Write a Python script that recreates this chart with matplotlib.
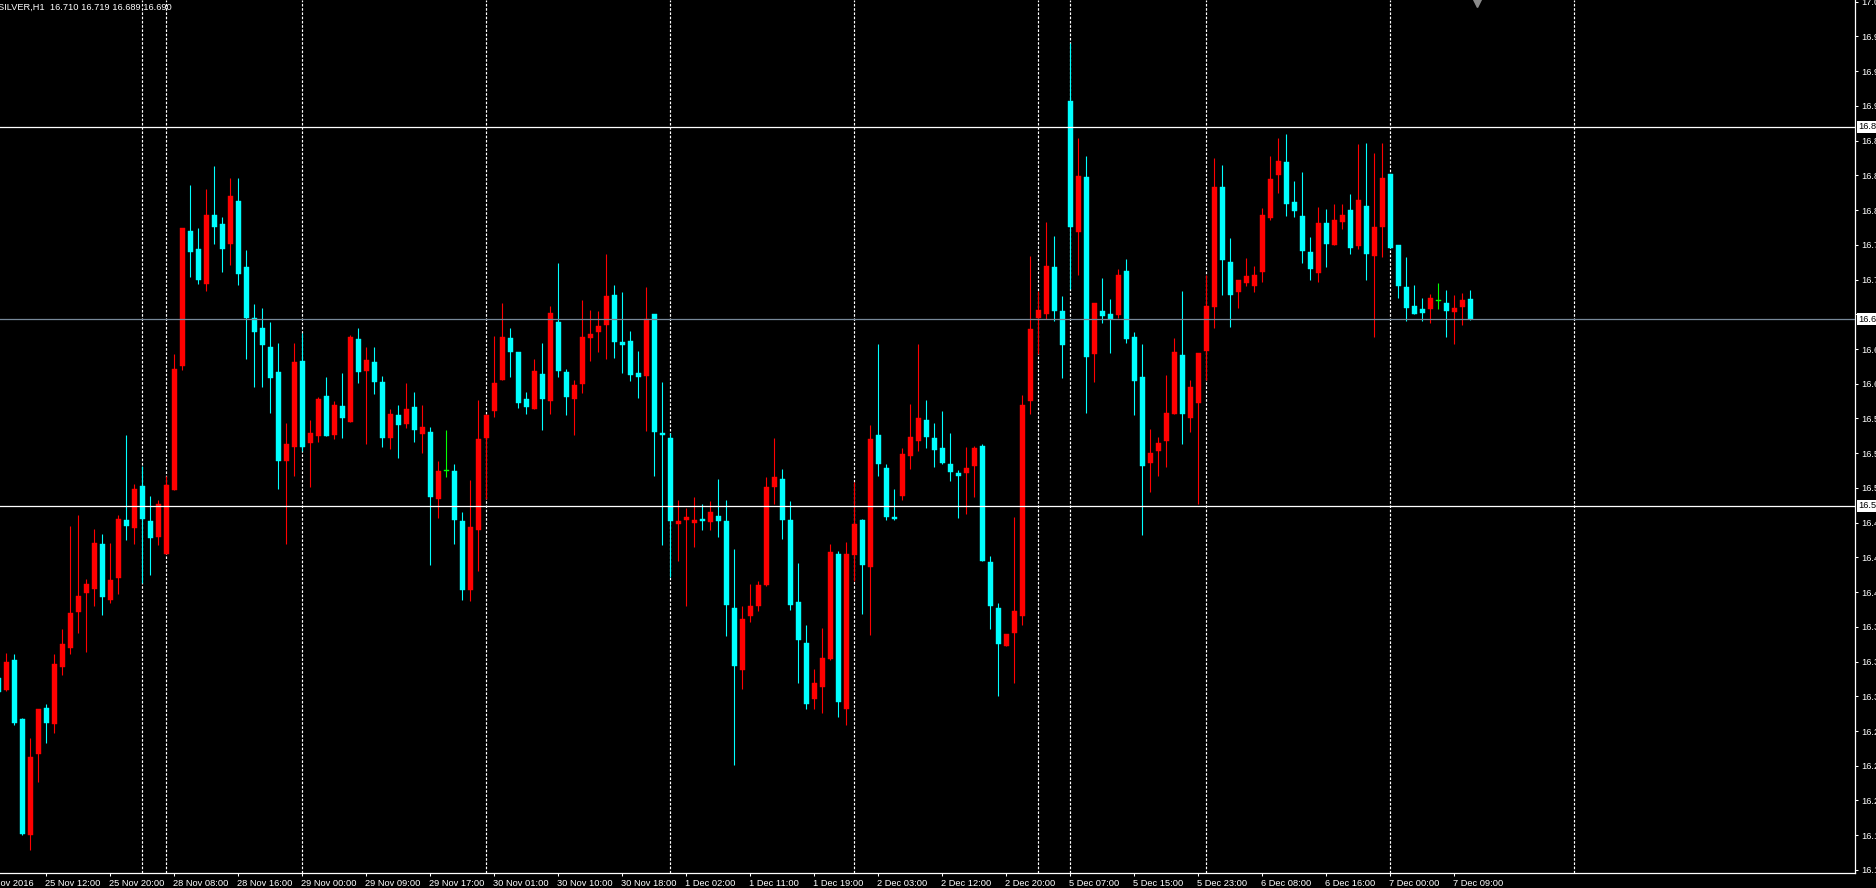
import matplotlib
matplotlib.use("Agg")
import matplotlib.pyplot as plt
import numpy as np
import pandas as pd

plt.rcParams['font.family'] = ['Liberation Sans', 'DejaVu Sans']

# ---------------- data (SILVER, H1) ----------------
symbol = "SILVER,H1"

opens = [
    16.328, 16.316, 16.347, 16.287, 16.170, 16.252, 16.298, 16.282, 16.340, 16.359,
    16.395, 16.414, 16.418, 16.463, 16.407, 16.429, 16.488, 16.480, 16.522, 16.487,
    16.471, 16.453, 16.518, 16.643, 16.779, 16.761, 16.726, 16.795, 16.786, 16.766,
    16.809, 16.743, 16.691, 16.681, 16.662, 16.637, 16.547, 16.561, 16.648, 16.565,
    16.572, 16.613, 16.573, 16.603, 16.586, 16.670, 16.638, 16.647, 16.627, 16.570,
    16.593, 16.584, 16.602, 16.574, 16.576, 16.509, 16.537, 16.537, 16.487, 16.417,
    16.478, 16.570, 16.598, 16.629, 16.671, 16.657, 16.610, 16.600, 16.635, 16.608,
    16.687, 16.637, 16.610, 16.625, 16.671, 16.677, 16.684, 16.714, 16.667, 16.668,
    16.636, 16.633, 16.695, 16.575, 16.570, 16.484, 16.488, 16.485, 16.489, 16.486,
    16.492, 16.487, 16.399, 16.337, 16.391, 16.401, 16.422, 16.521, 16.529, 16.488,
    16.405, 16.364, 16.307, 16.319, 16.348, 16.453, 16.297, 16.452, 16.488, 16.440,
    16.573, 16.540, 16.491, 16.512, 16.552, 16.567, 16.588, 16.570, 16.560, 16.544,
    16.535, 16.535, 16.542, 16.562, 16.445, 16.399, 16.361, 16.374, 16.391, 16.608,
    16.691, 16.695, 16.743, 16.698, 16.910, 16.778, 16.833, 16.655, 16.698, 16.695,
    16.694, 16.739, 16.672, 16.632, 16.545, 16.557, 16.567, 16.594, 16.654, 16.590,
    16.606, 16.658, 16.702, 16.823, 16.748, 16.717, 16.727, 16.723, 16.738, 16.792,
    16.835, 16.848, 16.808, 16.794, 16.758, 16.737, 16.787, 16.765, 16.788, 16.800,
    16.764, 16.804, 16.754, 16.783, 16.836, 16.765, 16.722, 16.703, 16.700, 16.700,
    16.708, 16.706, 16.697, 16.702, 16.710,
]
highs = [
    16.330, 16.354, 16.353, 16.288, 16.268, 16.297, 16.302, 16.353, 16.378, 16.482,
    16.493, 16.428, 16.479, 16.474, 16.464, 16.493, 16.573, 16.524, 16.542, 16.512,
    16.508, 16.532, 16.655, 16.782, 16.825, 16.782, 16.821, 16.844, 16.793, 16.832,
    16.832, 16.760, 16.705, 16.701, 16.687, 16.666, 16.585, 16.666, 16.676, 16.588,
    16.612, 16.632, 16.608, 16.636, 16.674, 16.681, 16.662, 16.662, 16.633, 16.600,
    16.604, 16.626, 16.617, 16.604, 16.581, 16.547, 16.578, 16.544, 16.496, 16.528,
    16.609, 16.593, 16.673, 16.706, 16.681, 16.657, 16.617, 16.650, 16.666, 16.703,
    16.747, 16.640, 16.629, 16.709, 16.699, 16.698, 16.756, 16.725, 16.717, 16.678,
    16.658, 16.722, 16.695, 16.627, 16.575, 16.508, 16.500, 16.511, 16.504, 16.507,
    16.529, 16.508, 16.458, 16.401, 16.423, 16.426, 16.531, 16.570, 16.539, 16.507,
    16.444, 16.382, 16.338, 16.379, 16.463, 16.456, 16.466, 16.526, 16.489, 16.583,
    16.665, 16.544, 16.519, 16.560, 16.605, 16.665, 16.609, 16.585, 16.598, 16.575,
    16.538, 16.561, 16.562, 16.564, 16.451, 16.404, 16.373, 16.491, 16.614, 16.754,
    16.718, 16.788, 16.774, 16.713, 16.968, 16.873, 16.854, 16.706, 16.732, 16.710,
    16.741, 16.751, 16.677, 16.665, 16.579, 16.571, 16.634, 16.671, 16.718, 16.629,
    16.656, 16.735, 16.852, 16.845, 16.772, 16.730, 16.752, 16.744, 16.802, 16.855,
    16.873, 16.877, 16.829, 16.838, 16.773, 16.803, 16.801, 16.806, 16.806, 16.816,
    16.867, 16.868, 16.858, 16.868, 16.836, 16.765, 16.753, 16.725, 16.711, 16.715,
    16.727, 16.719, 16.714, 16.716, 16.719,
]
lows = [
    16.311, 16.315, 16.281, 16.170, 16.155, 16.224, 16.263, 16.273, 16.331, 16.353,
    16.374, 16.355, 16.401, 16.392, 16.404, 16.413, 16.468, 16.463, 16.424, 16.432,
    16.462, 16.453, 16.518, 16.639, 16.733, 16.726, 16.718, 16.766, 16.738, 16.745,
    16.725, 16.650, 16.622, 16.622, 16.595, 16.519, 16.463, 16.532, 16.557, 16.521,
    16.566, 16.572, 16.569, 16.570, 16.586, 16.626, 16.564, 16.615, 16.561, 16.559,
    16.550, 16.580, 16.566, 16.555, 16.442, 16.490, 16.531, 16.463, 16.407, 16.406,
    16.436, 16.509, 16.591, 16.629, 16.632, 16.601, 16.594, 16.600, 16.578, 16.594,
    16.632, 16.593, 16.573, 16.616, 16.648, 16.657, 16.650, 16.651, 16.636, 16.628,
    16.611, 16.577, 16.532, 16.462, 16.430, 16.446, 16.401, 16.460, 16.478, 16.478,
    16.471, 16.371, 16.241, 16.317, 16.385, 16.396, 16.421, 16.504, 16.469, 16.397,
    16.323, 16.297, 16.297, 16.293, 16.347, 16.289, 16.281, 16.426, 16.393, 16.372,
    16.532, 16.488, 16.488, 16.508, 16.539, 16.557, 16.560, 16.541, 16.544, 16.527,
    16.490, 16.494, 16.511, 16.446, 16.378, 16.310, 16.361, 16.323, 16.382, 16.594,
    16.655, 16.690, 16.688, 16.631, 16.720, 16.735, 16.595, 16.627, 16.686, 16.656,
    16.691, 16.666, 16.593, 16.473, 16.516, 16.532, 16.541, 16.594, 16.564, 16.576,
    16.504, 16.629, 16.681, 16.714, 16.682, 16.701, 16.723, 16.717, 16.728, 16.790,
    16.817, 16.794, 16.793, 16.747, 16.730, 16.728, 16.743, 16.765, 16.781, 16.756,
    16.761, 16.730, 16.672, 16.753, 16.762, 16.711, 16.688, 16.695, 16.688, 16.686,
    16.700, 16.672, 16.665, 16.684, 16.689,
]
closes = [
    16.314, 16.345, 16.283, 16.171, 16.249, 16.297, 16.283, 16.343, 16.363, 16.394,
    16.411, 16.423, 16.464, 16.410, 16.427, 16.489, 16.482, 16.519, 16.489, 16.470,
    16.504, 16.523, 16.640, 16.782, 16.758, 16.730, 16.795, 16.783, 16.761, 16.814,
    16.736, 16.691, 16.677, 16.664, 16.631, 16.547, 16.564, 16.647, 16.561, 16.575,
    16.610, 16.572, 16.604, 16.590, 16.672, 16.637, 16.649, 16.627, 16.570, 16.594,
    16.583, 16.600, 16.578, 16.581, 16.511, 16.537, 16.537, 16.488, 16.417, 16.481,
    16.569, 16.593, 16.626, 16.672, 16.657, 16.606, 16.602, 16.638, 16.610, 16.696,
    16.638, 16.612, 16.624, 16.672, 16.675, 16.683, 16.713, 16.667, 16.664, 16.634,
    16.632, 16.690, 16.576, 16.573, 16.487, 16.487, 16.491, 16.488, 16.487, 16.496,
    16.487, 16.402, 16.341, 16.388, 16.401, 16.422, 16.521, 16.531, 16.488, 16.402,
    16.367, 16.302, 16.323, 16.349, 16.455, 16.304, 16.453, 16.484, 16.442, 16.569,
    16.544, 16.491, 16.489, 16.554, 16.571, 16.590, 16.571, 16.558, 16.545, 16.536,
    16.532, 16.540, 16.560, 16.446, 16.401, 16.363, 16.373, 16.396, 16.604, 16.680,
    16.699, 16.744, 16.698, 16.664, 16.783, 16.834, 16.652, 16.706, 16.693, 16.690,
    16.735, 16.670, 16.628, 16.542, 16.555, 16.565, 16.595, 16.657, 16.594, 16.622,
    16.656, 16.703, 16.823, 16.750, 16.714, 16.730, 16.734, 16.735, 16.795, 16.831,
    16.849, 16.806, 16.799, 16.759, 16.741, 16.787, 16.766, 16.790, 16.795, 16.762,
    16.810, 16.756, 16.783, 16.832, 16.762, 16.723, 16.701, 16.695, 16.696, 16.711,
    16.708, 16.698, 16.701, 16.709, 16.690,
]

# user-drawn horizontal levels
levels = [16.884, 16.502]

# price-scale ticks
tick_top = 17.010
tick_step = 0.035
n_ticks = 26

# broker session hours (daily break at 04:00, weekend gap)
regular = [h for h in range(24) if h != 4]
sessions = [
    ("2016-11-25", [3] + list(range(5, 24))),
    ("2016-11-26", [0, 1, 2]),
    ("2016-11-28", list(range(7, 24))),
    ("2016-11-29", regular),
    ("2016-11-30", regular),
    ("2016-12-01", regular),
    ("2016-12-02", regular),
    ("2016-12-03", [0, 1, 2, 3]),
    ("2016-12-05", list(range(7, 24))),
    ("2016-12-06", regular),
    ("2016-12-07", regular),
    ("2016-12-08", regular),
]
first_data_slot = 2     # data begins at 25 Nov 06:00
label_every = 8

# ---------------- build ----------------
times = [pd.Timestamp(f"{d} {h:02d}:00") for d, hrs in sessions for h in hrs]
o = np.array(opens); h = np.array(highs); l = np.array(lows); c = np.array(closes)
n = len(c)
x = np.arange(n) + first_data_slot

UP, DOWN, DOJI = '#ff0000', '#00ffff', '#00ff00'
cols = np.where(c > o, UP, np.where(c < o, DOWN, DOJI))

W, H, DPI = 1876, 888, 100
fig = plt.figure(figsize=(W / DPI, H / DPI), dpi=DPI, facecolor='black')
ax = fig.add_axes([0, 15 / H, 1855 / W, 873 / H])
ax.set_facecolor('black')

px_per_step = 34.73
y_top = tick_top + 1.7 / px_per_step * tick_step
y_bot = tick_top - (873 - 1.7) / px_per_step * tick_step
ax.set_ylim(y_bot, y_top)
ax.set_xlim(first_data_slot + 0.21, first_data_slot + 232.08)

# period separators (start of each day)
for i in range(1, len(times)):
    if times[i].date() != times[i - 1].date():
        ax.axvline(i, color='white', lw=0.85, dashes=(2.2, 1.4), zorder=1)

# candles
ax.vlines(x, l, h, colors=cols, lw=0.8, zorder=2)
body = np.maximum(np.abs(c - o), 0.0009)
ax.bar(x, body, bottom=np.minimum(o, c), width=0.62, color=cols,
       edgecolor=cols, linewidth=0.3, zorder=3)

# horizontal lines
for lv in levels:
    ax.axhline(lv, color='white', lw=0.9, zorder=4)
ax.axhline(c[-1], color='#778899', lw=0.9, zorder=4)

# axes styling
for s in ['left', 'top']:
    ax.spines[s].set_visible(False)
for s in ['right', 'bottom']:
    ax.spines[s].set_color('white')
    ax.spines[s].set_linewidth(0.9)

FS = 6.7
boxed = levels + [c[-1]]
yt = np.round(tick_top - tick_step * np.arange(n_ticks), 3)
ax.yaxis.tick_right()
ax.set_yticks(yt)
# labels hidden behind a price box are left blank
ax.set_yticklabels(['' if min(abs(v - b) for b in boxed) < 0.007 else f"{v:.3f}"
                    for v in yt])
ax.tick_params(axis='y', colors='white', length=2.2, width=0.75, pad=2.4,
               labelsize=FS, direction='out')

last_slot = first_data_slot + n - 1
label_slots = list(range(0, last_slot + 1, label_every))
vis_slots = [s for s in label_slots if s >= ax.get_xlim()[0]]
ax.set_xticks(vis_slots)
ax.set_xticklabels([''] * len(vis_slots))
ax.tick_params(axis='x', colors='white', length=2.2, width=0.75, direction='out')

for j, s in enumerate(label_slots):
    t = times[s]
    txt = f"{t.day} {t:%b %Y}" if j == 0 else f"{t.day} {t:%b %H:%M}"
    ax.annotate(txt, xy=(s, 0), xycoords=('data', 'axes fraction'),
                xytext=(-0.7, -9.2), textcoords='offset points',
                ha='left', va='baseline', color='white', fontsize=FS,
                annotation_clip=False)

# price boxes on the scale
for lv in boxed:
    ax.annotate(f"{lv:.3f}", xy=(1, lv), xycoords=('axes fraction', 'data'),
                xytext=(2.6, 0), textcoords='offset points',
                ha='left', va='center', color='black', fontsize=FS,
                bbox=dict(boxstyle='square,pad=0.15', fc='white', ec='none'),
                annotation_clip=False, zorder=10)

# chart-shift marker
ax.plot([0.7962], [1 - 3 / 873], marker='v', ms=5.5, color='#8a8a8a',
        transform=ax.transAxes, clip_on=False, zorder=6)

# header
fig.text(-2 / W, 1 - 10 / H,
         f"{symbol}  {o[-1]:.3f} {h[-1]:.3f} {l[-1]:.3f} {c[-1]:.3f}",
         color='white', fontsize=FS, ha='left', va='baseline')

fig.savefig('out.png', dpi=DPI, facecolor='black')
